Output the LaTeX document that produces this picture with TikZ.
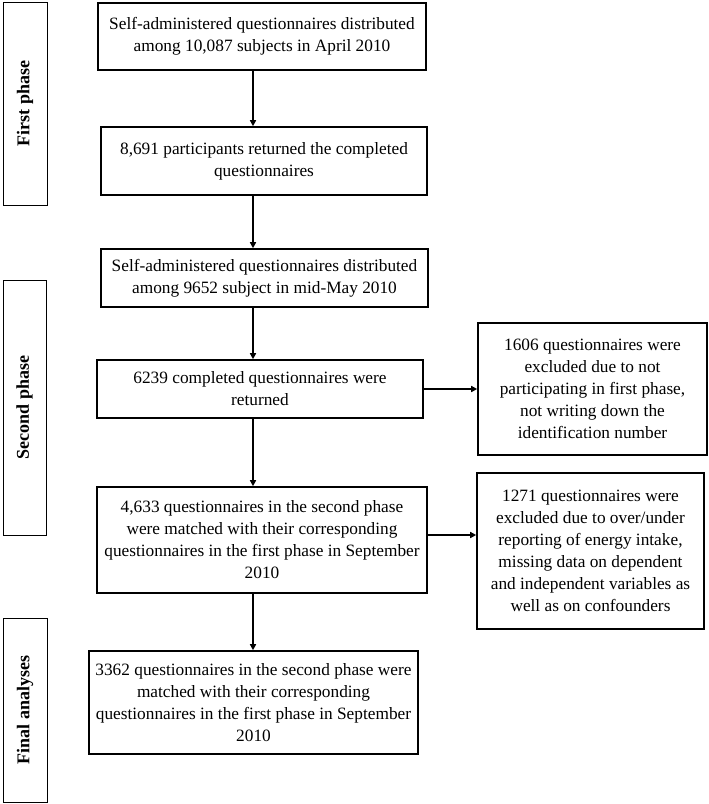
\documentclass[tikz,border=0pt]{standalone}
\usepackage{fontspec}
\setmainfont{Liberation Serif}
\usetikzlibrary{arrows.meta}
\begin{document}
\begin{tikzpicture}[x=1pt,y=-1pt,
  mainbox/.style={draw, line width=1.6pt, align=center, inner sep=0pt, font=\fontsize{17.3}{22}\selectfont},
  phasebox/.style={draw, line width=1pt, inner sep=0pt},
  phaselabel/.style={rotate=90, font=\fontsize{18}{21}\selectfont\bfseries},
  arr/.style={line width=1.6pt, -{Triangle[length=6pt,width=6pt]}}]
\useasboundingbox (0,0) rectangle (709,804);
\node[phasebox, minimum width=44pt, minimum height=203pt] (p1) at (25,103.5) {};
\node[phaselabel] (p1t) at (p1.center) {First phase};
\node[phasebox, minimum width=43pt, minimum height=255pt] (p2) at (24.5,407.5) {};
\node[phaselabel] (p2t) at (p2.center) {Second phase};
\node[phasebox, minimum width=44pt, minimum height=184pt] (p3) at (25,710) {};
\node[phaselabel] (p3t) at (p3.center) {Final analyses};

\node[mainbox, minimum width=328pt, minimum height=67pt] (b1) at (262,36.5) {Self-administered questionnaires distributed\\among 10,087 subjects in April 2010};
\node[mainbox, minimum width=326pt, minimum height=68pt] (b2) at (264,161) {8,691 participants returned the completed\\questionnaires};
\node[mainbox, minimum width=327pt, minimum height=58pt] (b3) at (264.5,278) {Self-administered questionnaires distributed\\among 9652 subject in mid-May 2010};
\node[mainbox, minimum width=326pt, minimum height=58pt] (b4) at (260,389) {6239 completed questionnaires were\\returned};
\node[mainbox, minimum width=330pt, minimum height=106pt] (b5) at (262,540) {4,633 questionnaires in the second phase\\were matched with their corresponding\\questionnaires in the first phase in September\\2010};
\node[mainbox, minimum width=329pt, minimum height=103pt] (b6) at (253.5,702.5) {3362 questionnaires in the second phase were\\matched with their corresponding\\questionnaires in the first phase in September\\2010};
\node[mainbox, minimum width=229pt, minimum height=132pt] (e1) at (592.5,389) {1606 questionnaires were\\excluded due to not\\participating in first phase,\\not writing down the\\identification number};
\node[mainbox, minimum width=227pt, minimum height=156pt] (e2) at (590.5,551) {1271 questionnaires were\\excluded due to over/under\\reporting of energy intake,\\missing data on dependent\\and independent variables as\\well as on confounders};

\coordinate (ax) at (253,0);
\coordinate (r2) at (0,535);
\draw[arr] (b1.south -| ax) -- (b2.north -| ax);
\draw[arr] (b2.south -| ax) -- (b3.north -| ax);
\draw[arr] (b3.south -| ax) -- (b4.north -| ax);
\draw[arr] (b4.south -| ax) -- (b5.north -| ax);
\draw[arr] (b5.south -| ax) -- (b6.north -| ax);
\draw[arr] (b4.east) -- (b4.east -| e1.west);
\draw[arr] (b5.east |- r2) -- (e2.west |- r2);
\end{tikzpicture}
\end{document}
